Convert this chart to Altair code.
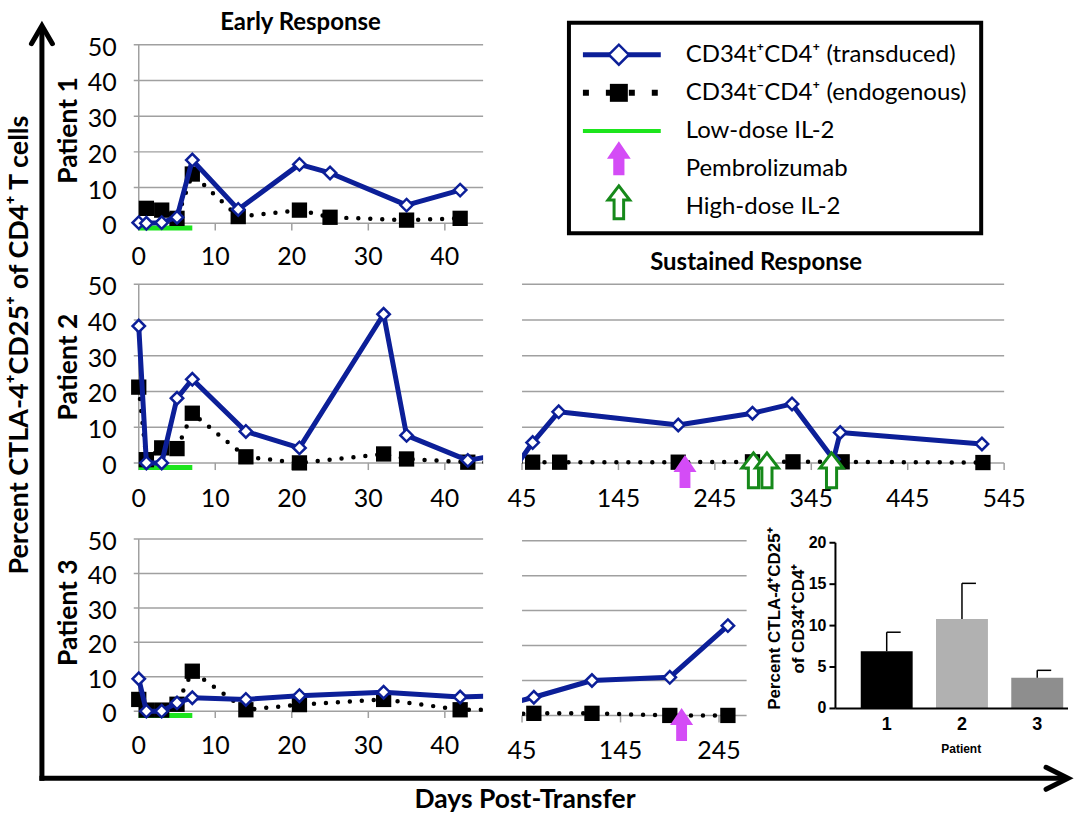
import altair as alt
import pandas as pd

# ---- time courses: day post-transfer vs % CTLA-4+CD25+ of CD4+ T cells ----
P1_T_DAYS = [0, 1, 3, 5, 7, 13, 21, 25, 35, 42]
P1_T_VALS = [0.2, 0.0, 0.2, 1.7, 17.7, 3.9, 16.5, 14.1, 5.1, 9.3]
P1_E_DAYS = [1, 3, 5, 7, 13, 21, 25, 35, 42]
P1_E_VALS = [4.2, 3.7, 1.4, 13.8, 1.9, 3.7, 1.7, 0.9, 1.4]

P2_T_DAYS = [0, 1, 3, 5, 7, 14, 21, 32, 35, 43, 56, 83, 207, 284, 325, 368, 375, 522]
P2_T_VALS = [38.3, 0.0, 0.0, 18.1, 23.4, 8.8, 4.2, 41.6, 7.7, 0.7, 5.7, 14.3, 10.6, 13.9, 16.5, 1.0, 8.5, 5.3]
P2_E_DAYS = [0, 1, 3, 5, 7, 14, 21, 32, 35, 43, 56, 84, 207, 284, 326, 377, 523]
P2_E_VALS = [21.2, 0.9, 4.2, 4.0, 13.9, 1.7, 0.0, 2.5, 1.1, 0.2, 0.2, 0.2, 0.2, 0.3, 0.3, 0.3, 0.1]

P3_T_DAYS = [0, 1, 3, 5, 7, 14, 21, 32, 42, 57, 116, 195, 254]
P3_T_VALS = [9.4, 0.0, 0.0, 2.4, 3.9, 3.4, 4.5, 5.5, 4.1, 5.2, 10.0, 10.9, 25.7]
P3_E_DAYS = [0, 1, 3, 5, 7, 14, 21, 32, 42, 57, 116, 195, 254]
P3_E_VALS = [3.4, 0.3, 0.3, 2.0, 11.6, 0.4, 1.9, 3.4, 0.4, 0.6, 0.6, 0.0, 0.0]

# ---- treatments ----
LOW_DOSE_IL2 = [0, 7]            # start / end day
P2_PEMBRO_DAYS = [214]
P2_HIGH_DOSE_DAYS = [285, 299, 366]
P3_PEMBRO_DAYS = [207]

# ---- summary bars ----
PATIENTS = ["1", "2", "3"]
BAR_MEAN = [6.9, 10.8, 3.7]
BAR_UPPER = [9.2, 15.1, 4.6]
BAR_COLORS = ["#000000", "#b1b1b1", "#8e8e8e"]

# ---- axis ticks ----
Y_TICKS = [0, 10, 20, 30, 40, 50]
EARLY_X_TICKS = [0, 10, 20, 30, 40]
P2_LATE_TICKS = [45, 145, 245, 345, 445, 545]
P3_LATE_TICKS = [45, 145, 245]
BAR_Y_TICKS = [0, 5, 10, 15, 20]

LEGEND_LABELS = [
    "CD34t\u207aCD4\u207a (transduced)",
    "CD34t\u207bCD4\u207a (endogenous)",
    "Low-dose IL-2",
    "Pembrolizumab",
    "High-dose IL-2",
]

NAVY = "#0c1f98"
GRID = "#a0a0a0"
LIME = "#1de51d"
MAGENTA = "#d44cf6"
DKGREEN = "#16891a"
FONT = "Lato"
ARIAL = "Liberation Sans"
TICK_SIZE = 25

ARROW_SOLID = "M0,-1L0.7,0.03L0.33,0.03L0.33,1L-0.33,1L-0.33,0.03L-0.7,0.03Z"
ARROW_OPEN = "M0,-1L0.66,-0.14L0.29,-0.14L0.29,1L-0.29,1L-0.29,-0.14L-0.66,-0.14Z"
CHEVRON_UP = "M-1,0.86L0,-0.86L1,0.86"
CHEVRON_RIGHT = "M-1,-1L1,0L-1,1"

one = pd.DataFrame({"a": [0]})


def series(days, vals):
    return pd.DataFrame({"day": days, "pct": vals})


def panel(t_days, t_vals, e_days, e_vals, xdom, xrange, yrange, grid_x0, grid_x1,
          x_ticks, label_dy, early, pembro=(), high_dose=(), arrow_y=-2.4):
    xs = alt.Scale(domain=xdom, range=xrange, nice=False, zero=False)
    ys = alt.Scale(domain=[0, 50], range=yrange, nice=False, zero=False)

    def X(f):
        return alt.X(f, type="quantitative", scale=xs, axis=None)

    def Y(f):
        return alt.Y(f, type="quantitative", scale=ys, axis=None)

    def y0():
        return alt.YDatum(0, type="quantitative", scale=ys, axis=None)

    t = series(t_days, t_vals)
    e = series(e_days, e_vals)
    t_in = t[(t.day >= xdom[0]) & (t.day <= xdom[1])]
    e_in = e[(e.day >= xdom[0]) & (e.day <= xdom[1])]

    grid_df = pd.DataFrame({"v": Y_TICKS, "lab": [str(v) for v in Y_TICKS]})
    xt_df = pd.DataFrame({"t": x_ticks, "lab": [str(v) for v in x_ticks]})

    layers = [
        alt.Chart(grid_df).mark_rule(color=GRID, strokeWidth=1.5).encode(
            y=Y("v"), x=alt.value(grid_x0), x2=alt.value(grid_x1)),
        alt.Chart(xt_df).mark_rule(color=GRID, strokeWidth=1.5).encode(
            x=X("t"), y=y0(), y2=alt.Y2Datum(-2)),
        alt.Chart(xt_df).mark_text(font=FONT, fontSize=TICK_SIZE, dy=label_dy,
                                   baseline="middle", align="center", color="black").encode(
            x=X("t"), y=y0(), text="lab:N"),
    ]
    if early:
        layers += [
            alt.Chart(grid_df).mark_text(font=FONT, fontSize=TICK_SIZE, dy=3, baseline="middle",
                                         align="right", color="black").encode(
                y=Y("v"), x=alt.value(-15), text="lab:N"),
            alt.Chart(one).mark_rule(color=GRID, strokeWidth=1.5).encode(
                x=alt.XDatum(0, type="quantitative", scale=xs, axis=None),
                y=alt.YDatum(50, type="quantitative", scale=ys, axis=None),
                y2=alt.Y2Datum(-2)),
            alt.Chart(pd.DataFrame({"s": [LOW_DOSE_IL2[0]], "e": [LOW_DOSE_IL2[1]], "lvl": [-1.3]}))
            .mark_rule(color=LIME, strokeWidth=5).encode(x=X("s"), x2="e:Q", y=Y("lvl")),
        ]
    layers += [
        alt.Chart(e).mark_line(color="black", strokeWidth=4.5, strokeDash=[0, 12],
                               strokeCap="round", clip=True).encode(x=X("day"), y=Y("pct")),
        alt.Chart(e_in).mark_point(shape="square", filled=True, color="black", size=235,
                                   opacity=1).encode(x=X("day"), y=Y("pct")),
        alt.Chart(t).mark_line(color=NAVY, strokeWidth=5, strokeJoin="round",
                               clip=True).encode(x=X("day"), y=Y("pct")),
        alt.Chart(t_in).mark_point(shape="diamond", filled=True, fill="white", stroke=NAVY,
                                   strokeWidth=2.5, size=155, opacity=1).encode(
            x=X("day"), y=Y("pct")),
    ]
    if pembro:
        layers.append(
            alt.Chart(pd.DataFrame({"day": list(pembro), "lvl": [arrow_y] * len(pembro)}))
            .mark_point(shape=ARROW_SOLID, filled=True, fill=MAGENTA, strokeWidth=0,
                        size=1089, opacity=1).encode(x=X("day"), y=Y("lvl")))
    if high_dose:
        layers.append(
            alt.Chart(pd.DataFrame({"day": list(high_dose), "lvl": [arrow_y + 0.3] * len(high_dose)}))
            .mark_point(shape=ARROW_OPEN, filled=True, fill="white", stroke=DKGREEN,
                        strokeWidth=3, size=1225, opacity=1).encode(x=X("day"), y=Y("lvl")))
    return layers


def label(text, x, y, size=22, angle=0, weight="bold", font=FONT, align="center", **kw):
    return alt.Chart(pd.DataFrame({"t": [text]})).mark_text(
        font=font, fontSize=size, fontWeight=weight, angle=angle, align=align,
        baseline="middle", color="black", **kw).encode(
        x=alt.value(x), y=alt.value(y), text="t:N")


EARLY_W, LATE_W = 352, 483
ROW_A, ROW_B, ROW_C = 230, 255, 255

# ---------- row A: patient 1 + legend ----------
a0_layers = panel(P1_T_DAYS, P1_T_VALS, P1_E_DAYS, P1_E_VALS, [0, 45], [7, 352], [203, 24],
                  2, 352, EARLY_X_TICKS, 34, True)
a0_layers += [
    # corner anchor for the page origin
    alt.Chart(one).mark_rect(fill="white").encode(
        x=alt.value(-132), x2=alt.value(-131), y=alt.value(-20), y2=alt.value(-19)),
    label("Early Response", 169, 2, size=24),
    label("Patient 1", -63, 110, size=26.5, angle=270),
    label("Percent CTLA-4\u207aCD25\u207a of CD4\u207a T cells", -112, 325, size=27, angle=270),
    label("Days Post-Transfer", 394, 781, size=26.5),
    # framing arrows
    alt.Chart(one).mark_rule(color="black", strokeWidth=5).encode(
        x=alt.value(-90), y=alt.value(6), y2=alt.value(761.5)),
    alt.Chart(one).mark_rule(color="black", strokeWidth=5).encode(
        y=alt.value(759), x=alt.value(-92.5), x2=alt.value(936)),
    alt.Chart(one).mark_point(shape=CHEVRON_UP, filled=False, stroke="black", strokeWidth=5,
                              strokeCap="round", size=441, opacity=1).encode(
        x=alt.value(-90), y=alt.value(14)),
    alt.Chart(one).mark_point(shape=CHEVRON_RIGHT, filled=False, stroke="black", strokeWidth=5,
                              strokeCap="round", size=484, opacity=1).encode(
        x=alt.value(927), y=alt.value(759)),
]
A0 = alt.layer(*a0_layers).properties(width=EARLY_W, height=ROW_A)

leg = pd.DataFrame({"row": list(range(len(LEGEND_LABELS))), "label": LEGEND_LABELS})
ly = alt.Scale(domain=[0, 4], range=[34, 187], nice=False, zero=False)


def LY():
    return alt.Y("row:Q", scale=ly, axis=None)


A1 = alt.layer(
    alt.Chart(one).mark_rect(fill="white", stroke="black", strokeWidth=4).encode(
        x=alt.value(47), x2=alt.value(460), y=alt.value(2), y2=alt.value(213)),
    alt.Chart(leg).mark_text(font=FONT, fontSize=24, align="left", baseline="middle",
                             color="black").encode(x=alt.value(164), y=LY(), text="label:N"),
    alt.Chart(leg[leg.row == 0]).mark_rule(color=NAVY, strokeWidth=5).encode(
        x=alt.value(61), x2=alt.value(139), y=LY()),
    alt.Chart(leg[leg.row == 0]).mark_point(shape="diamond", filled=True, fill="white",
                                            stroke=NAVY, strokeWidth=2.5, size=400,
                                            opacity=1).encode(x=alt.value(97), y=LY()),
    alt.Chart(leg[leg.row == 1]).mark_rule(color="black", strokeWidth=6, strokeDash=[6, 17]).encode(
        x=alt.value(61), x2=alt.value(139), y=LY()),
    alt.Chart(leg[leg.row == 1]).mark_point(shape="square", filled=True, color="black",
                                            size=324, opacity=1).encode(x=alt.value(97), y=LY()),
    alt.Chart(leg[leg.row == 2]).mark_rule(color=LIME, strokeWidth=4).encode(
        x=alt.value(61), x2=alt.value(139), y=LY()),
    alt.Chart(leg[leg.row == 3]).mark_point(shape=ARROW_SOLID, filled=True, fill=MAGENTA,
                                            strokeWidth=0, size=1156, opacity=1,
                                            yOffset=-11).encode(x=alt.value(97), y=LY()),
    alt.Chart(leg[leg.row == 4]).mark_point(shape=ARROW_OPEN, filled=True, fill="white",
                                            stroke=DKGREEN, strokeWidth=3, size=1089, opacity=1,
                                            yOffset=-5).encode(x=alt.value(97), y=LY()),
).properties(width=515, height=ROW_A)

# ---------- row B: patient 2 ----------
B0 = alt.layer(
    *panel(P2_T_DAYS, P2_T_VALS, P2_E_DAYS, P2_E_VALS, [0, 45], [7, 352], [213, 34],
           2, 352, EARLY_X_TICKS, 36, True),
    label("Patient 2", -63, 117, size=26.5, angle=270),
).properties(width=EARLY_W, height=ROW_B)

B1 = alt.layer(
    *panel(P2_T_DAYS, P2_T_VALS, P2_E_DAYS, P2_E_VALS, [45, 545], [0, 483], [213, 34],
           0, 483, P2_LATE_TICKS, 36, False, pembro=P2_PEMBRO_DAYS,
           high_dose=P2_HIGH_DOSE_DAYS, arrow_y=-2.4),
    label("Sustained Response", 234.5, 13, size=24),
).properties(width=LATE_W, height=ROW_B)

# ---------- row C: patient 3, plus the summary bar chart to its right ----------
C0 = alt.layer(
    *panel(P3_T_DAYS, P3_T_VALS, P3_E_DAYS, P3_E_VALS, [0, 45], [7, 352], [206.7, 34.3],
           2, 352, EARLY_X_TICKS, 35, True),
    label("Patient 3", -63, 108, size=26.5, angle=270),
).properties(width=EARLY_W, height=ROW_C)

BAR_X0, BAR_X1 = 314, 547   # bar chart frame inside the row-C right cell
bars = pd.DataFrame({"patient": PATIENTS, "mean": BAR_MEAN, "upper": BAR_UPPER})
bx = alt.Scale(type="band", domain=PATIENTS, range=[BAR_X0, BAR_X1], paddingInner=0.31,
               paddingOuter=0.2, align=0.84)
by = alt.Scale(domain=[0, 20], range=[204, 38], nice=False, zero=False)


def BX():
    return alt.X("patient:N", scale=bx, axis=None)


def BY(f):
    return alt.Y(f, type="quantitative", scale=by, axis=None)


def by0():
    return alt.YDatum(0, type="quantitative", scale=by, axis=None)


bt = pd.DataFrame({"v": BAR_Y_TICKS, "lab": [str(v) for v in BAR_Y_TICKS]})

bar_layers = [
    alt.Chart(bars).mark_bar(opacity=1).encode(
        x=BX(), y=alt.Y("mean:Q", scale=by, axis=None, stack=None), y2=alt.Y2Datum(0),
        color=alt.Color("patient:N", scale=alt.Scale(domain=PATIENTS, range=BAR_COLORS),
                        legend=None)),
    alt.Chart(bars).mark_rule(color="black", strokeWidth=1.5).encode(
        x=BX(), y=BY("mean"), y2="upper:Q"),
    alt.Chart(bars).mark_tick(color="black", orient="horizontal", size=14, thickness=1.5,
                              xOffset=7, opacity=1).encode(x=BX(), y=BY("upper")),
    alt.Chart(one).mark_rule(color="black", strokeWidth=2).encode(
        x=alt.value(BAR_X0), y=by0(), y2=alt.Y2Datum(20)),
    alt.Chart(one).mark_rule(color="black", strokeWidth=2).encode(
        y=by0(), x=alt.value(BAR_X0), x2=alt.value(BAR_X1)),
    alt.Chart(bt).mark_rule(color="black", strokeWidth=2).encode(
        y=BY("v"), x=alt.value(BAR_X0 - 6), x2=alt.value(BAR_X0)),
    alt.Chart(bt).mark_text(font=ARIAL, fontSize=16, fontWeight="bold", align="right",
                            baseline="middle", color="black").encode(
        y=BY("v"), x=alt.value(BAR_X0 - 9), text="lab:N"),
    alt.Chart(bars).mark_text(font=ARIAL, fontSize=18, fontWeight="bold", dy=17,
                              baseline="middle", color="black").encode(
        x=BX(), y=by0(), text="patient:N"),
    label("Patient", BAR_X0 + 126, 245, size=12, font=ARIAL),
    alt.Chart(pd.DataFrame({"t": [["Percent CTLA-4\u207aCD25\u207a", "of CD34\u207aCD4\u207a"]]}))
    .mark_text(font=ARIAL, fontSize=17, fontWeight="bold", angle=270, baseline="middle",
               align="center", lineHeight=24, color="black").encode(
        x=alt.value(BAR_X0 - 61), y=alt.value(114), text="t"),
]

C1 = alt.layer(
    *panel(P3_T_DAYS, P3_T_VALS, P3_E_DAYS, P3_E_VALS, [45, 273], [0, 225], [211, 36],
           0, 225, P3_LATE_TICKS, 36, False, pembro=P3_PEMBRO_DAYS, arrow_y=-2.6),
    *bar_layers,
).resolve_scale(x="independent", y="independent").properties(width=LATE_W, height=ROW_C)

chart = alt.concat(
    A0, A1,
    B0, B1,
    C0, C1,
    columns=2, spacing=alt.RowColnumber(row=0, column=39), align="none", bounds="flush",
).properties(padding=0, background="white").configure_view(stroke=None)

chart.save("out.html", embed_options={"renderer": "svg", "actions": False})
